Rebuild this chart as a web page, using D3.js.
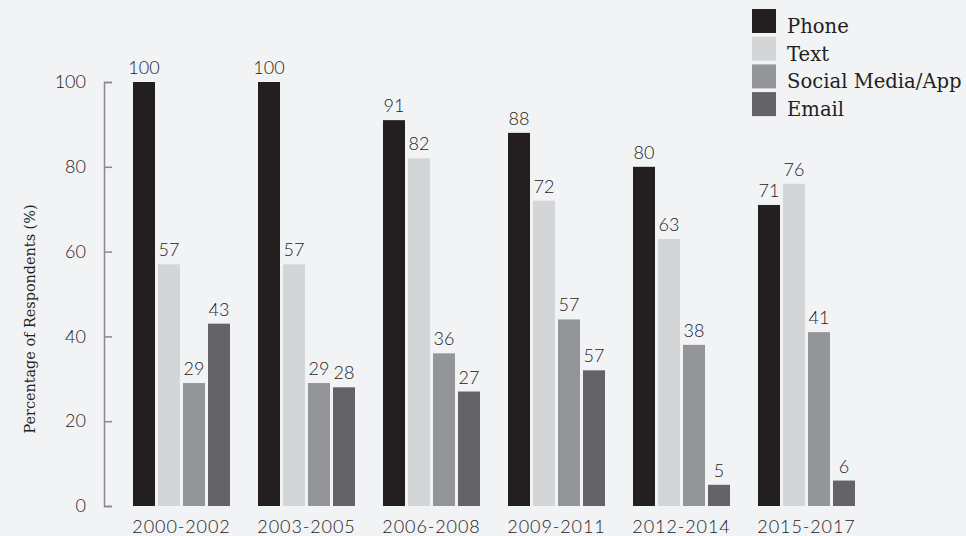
<!DOCTYPE html>
<html>
<head>
<meta charset="utf-8">
<script src="https://cdn.jsdelivr.net/npm/d3@7"></script>
<style>
  html, body { margin: 0; padding: 0; background: #f2f3f5; }
  svg { display: block; }
  .axis path, .axis line { stroke: #8a8a8c; stroke-width: 1.5; }
  .axis text { font-family: Lato, sans-serif; font-weight: 300; font-size: 18px; fill: #1d1a1b; }
</style>
</head>
<body>
<svg id="chart" width="966" height="536"></svg>
<script>
// periods on the x axis
const periods = ['2000-2002', '2003-2005', '2006-2008', '2009-2011', '2012-2014', '2015-2017']
const seriesNames = ['Phone', 'Text', 'Social Media/App', 'Email']
const seriesColors = ['#231f20', '#d4d5d7', '#939598', '#646466']

// bar heights
const phone = [100, 100, 91, 88, 80, 71]
const text = [57, 57, 82, 72, 63, 76]
const social = [29, 29, 36, 44, 38, 41]
const email = [43, 28, 27, 32, 5, 6]

// printed labels (2009-2011 labels differ from bar heights in the original)
const phoneLabels = ['100', '100', '91', '88', '80', '71']
const textLabels = ['57', '57', '82', '72', '63', '76']
const socialLabels = ['29', '29', '36', '57', '38', '41']
const emailLabels = ['43', '28', '27', '57', '5', '6']

const yTicks = [0, 20, 40, 60, 80, 100]

const values = [phone, text, social, email]
const labels = [phoneLabels, textLabels, socialLabels, emailLabels]

const svg = d3.select('#chart')

const x = d3.scaleBand()
  .domain(periods)
  .range([119, 869])
  .paddingInner(0.224)
  .paddingOuter(0.112)

const xSub = d3.scaleBand()
  .domain(seriesNames)
  .range([0, x.bandwidth()])
  .paddingInner(0.12)

const y = d3.scaleLinear().domain([0, 100]).range([506, 82])

// y axis, bracket style with ticks pointing right
svg.append('g')
  .attr('class', 'axis')
  .attr('transform', 'translate(104,0)')
  .call(d3.axisLeft(y).tickValues(yTicks).tickSize(-8).tickPadding(18))

svg.append('text')
  .attr('transform', 'translate(35,' + 319 + ') rotate(-90)')
  .attr('text-anchor', 'middle')
  .style('font-family', 'DejaVu Serif, serif')
  .style('font-size', '14.4px')
  .attr('fill', '#231f20')
  .text('Percentage of Respondents (%)')

// bars
const rows = []
periods.forEach((p, i) => {
  seriesNames.forEach((s, j) => {
    rows.push({ period: p, series: s, value: values[j][i], label: labels[j][i], color: seriesColors[j] })
  })
})

const bars = svg.append('g')
bars.selectAll('rect')
  .data(rows)
  .join('rect')
  .attr('x', d => x(d.period) + xSub(d.series))
  .attr('y', d => y(d.value))
  .attr('width', xSub.bandwidth())
  .attr('height', d => y(0) - y(d.value))
  .attr('fill', d => d.color)

bars.selectAll('text')
  .data(rows)
  .join('text')
  .attr('x', d => x(d.period) + xSub(d.series) + xSub.bandwidth() / 2)
  .attr('y', d => y(d.value) - 8)
  .attr('text-anchor', 'middle')
  .style('font-family', 'Lato, sans-serif')
  .style('font-weight', 300)
  .style('font-size', '18px')
  .attr('fill', '#1d1a1b')
  .text(d => d.label)

// x labels
svg.append('g')
  .selectAll('text')
  .data(periods)
  .join('text')
  .attr('x', d => x(d) + x.bandwidth() / 2)
  .attr('y', 533)
  .attr('text-anchor', 'middle')
  .style('font-family', 'Lato, sans-serif')
  .style('font-weight', 300)
  .style('font-size', '18px')
  .style('letter-spacing', '0.9px')
  .attr('fill', '#1d1a1b')
  .text(d => d)

// legend
const legend = svg.append('g').attr('transform', 'translate(752,9)')
const item = legend.selectAll('g')
  .data(seriesNames)
  .join('g')
  .attr('transform', (d, i) => 'translate(0,' + i * 27.7 + ')')
item.append('rect')
  .attr('width', 24)
  .attr('height', 24)
  .attr('fill', (d, i) => seriesColors[i])
item.append('text')
  .attr('x', 35)
  .attr('y', 24)
  .style('font-family', 'DejaVu Serif, serif')
  .style('font-size', '19.6px')
  .attr('fill', '#231f20')
  .text(d => d)
</script>
</body>
</html>
